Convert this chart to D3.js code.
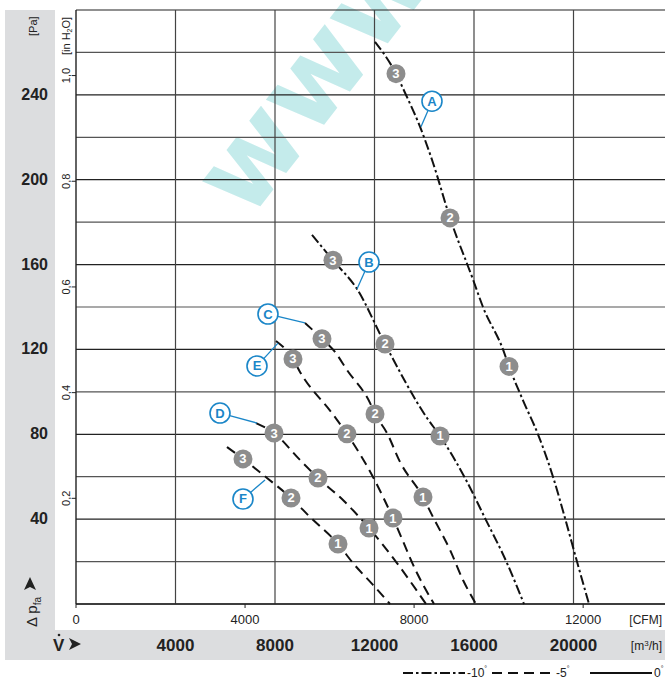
<!DOCTYPE html>
<html><head><meta charset="utf-8">
<script src="https://cdn.jsdelivr.net/npm/d3@7"></script>
<style>
body{margin:0;background:#fff;}
svg{display:block;font-family:"Liberation Sans Narrow","Arial Narrow","Liberation Sans",sans-serif;}
</style></head>
<body><svg id="c" width="665" height="679"></svg>
<script>
// ---------- data ----------
const paTicks = [40, 80, 120, 160, 200, 240];
const inH2OTicks = [0.2, 0.4, 0.6, 0.8, 1.0];
const m3hTicks = [4000, 8000, 12000, 16000, 20000];
const cfmTicks = [0, 4000, 8000, 12000];
const curveNames = ["A", "B", "C", "D", "E", "F"];
const curvePitch = ["-10", "-10", "-5", "-5", "-5", "-5"];
// [flow m3/h, pressure Pa]
const curveA = [[12020,265],[12864,250],[13226,241],[13829,225],[14351,208],[15035,182],[15959,153],[16361,140],[17165,120],[17407,112],[17969,96],[18572,80],[19175,60],[19658,40.5],[20140,20],[20623,0]];
const curveB = [[9487,174],[10331,162],[11296,148.5],[12422,122.6],[14110,87.7],[14633,79.2],[15638,59.4],[16442,40.5],[17326,19.3],[18010,0]];
const curveC = [[9206,132.5],[9889,125],[10412,118.8],[10894,110.3],[11819,94.8],[12020,89.6],[12502,80.6],[13025,67],[13949,50.4],[14351,41],[15035,25.5],[15557,11.3],[16080,0]];
const curveD = [[7236,85.3],[7960,80.6],[9005,67.9],[9728,59.4],[10733,49],[11779,35.8],[12904,19.3],[14070,0]];
const curveE = [[8040,124],[8723,115.5],[9005,109.4],[10291,90],[10894,80.2],[11939,59.9],[12743,40.5],[13708,14.6],[14392,0]];
const curveF = [[6070,74],[6713,68.4],[7678,59.4],[8643,50],[9407,41],[10532,28.3],[11135,19.3],[11939,9],[12623,0]];
const curves = [curveA, curveB, curveC, curveD, curveE, curveF];
// operating point markers 1,2,3 per curve
const markerNums = [1, 2, 3];
const markersA = [[17407,112],[15035,182],[12864,250]];
const markersB = [[14633,79.2],[12422,122.6],[10331,162]];
const markersC = [[13949,50.4],[12020,89.6],[9889,125]];
const markersD = [[11779,35.8],[9728,59.4],[7960,80.6]];
const markersE = [[12743,40.5],[10894,80.2],[8723,115.5]];
const markersF = [[10532,28.3],[8643,50],[6713,68.4]];
const markers = [markersA, markersB, markersC, markersD, markersE, markersF];
// curve label bubble and leader target
const labelAt = [[14311,237],[11779,161.2],[7718,136.7],[5789,90],[7276,112.2],[6713,49.5]];
const leaderTo = [[13869,225],[11296,148.5],[9206,132.5],[7276,85.3],[8120,123],[7598,58.5]];
const legendPitch = ["-10", "-5", "0"];

// ---------- layout ----------
const svg = d3.select("#c");
const L = 76, T = 10, B = 604;
const x = d3.scaleLinear().domain([0, 24000]).range([L, 673]);
const y = d3.scaleLinear().domain([0, 280]).range([B, T]);
const PA_PER_INH2O = 249.089;
const M3H_PER_CFM = 1.699;
const blue = "#1a86c8";
const dashOf = p => p === "-10" ? "10,3,2.5,3" : (p === "-5" ? "10,6" : null);

// gray panels
svg.append("rect").attr("x",5).attr("y",10).attr("width",50).attr("height",650).attr("fill","#dcdddf");
svg.append("rect").attr("x",5).attr("y",630).attr("width",660).attr("height",30).attr("fill","#dcdddf");

// watermark
svg.append("text").attr("transform","translate(248,222) rotate(-52)")
  .attr("font-family","DejaVu Sans").attr("font-weight","bold").attr("font-size",112)
  .attr("fill","#c4ebeb").text("www");

// grid
const g = svg.append("g");
const hLines = d3.range(0, 281, 20);
g.selectAll(".h").data(hLines).join("line")
  .attr("x1", L).attr("x2", 665).attr("y1", d => y(d)).attr("y2", d => y(d))
  .attr("stroke", (d,i) => i % 2 ? "#555" : "#222").attr("stroke-width", 1.2);
const vLines = d3.range(4000, 24001, 4000);
g.selectAll(".v").data(vLines).join("line")
  .attr("x1", d => x(d)).attr("x2", d => x(d)).attr("y1", T).attr("y2", B)
  .attr("stroke", "#444").attr("stroke-width", 1.2);
g.append("line").attr("x1", L).attr("x2", L).attr("y1", T).attr("y2", B).attr("stroke","#222").attr("stroke-width",1.4);
g.append("line").attr("x1", L).attr("x2", 665).attr("y1", B).attr("y2", B).attr("stroke","#222").attr("stroke-width",1.4);

// Pa labels
svg.selectAll(".pa").data(paTicks).join("text")
  .attr("x", 48).attr("y", d => y(d) + 5).attr("text-anchor","end")
  .attr("font-size", 16).attr("font-weight","bold").attr("fill","#222").text(d => d);
svg.append("text").attr("transform","translate(37,36) rotate(-90)")
  .attr("font-size",11).attr("fill","#222").text("[Pa]");

// inH2O axis
inH2OTicks.forEach(v => {
  const yy = y(v * PA_PER_INH2O);
  svg.append("line").attr("x1", L - 4).attr("x2", L).attr("y1", yy).attr("y2", yy).attr("stroke","#222");
  svg.append("text").attr("transform", `translate(70,${yy}) rotate(-90)`).attr("text-anchor","middle")
    .attr("font-size",11).attr("fill","#222").text(v.toFixed(1).replace(".", ","));
});
const ih = svg.append("text").attr("transform","translate(70,55) rotate(-90)").attr("font-size",11).attr("fill","#222");
ih.append("tspan").text("[in H");
ih.append("tspan").attr("font-size",7).attr("dy",2).text("2");
ih.append("tspan").attr("dy",-2).text("O]");

// CFM axis
cfmTicks.forEach(v => {
  const xx = x(v * M3H_PER_CFM);
  svg.append("line").attr("x1", xx).attr("x2", xx).attr("y1", B).attr("y2", B + 4).attr("stroke","#222");
  svg.append("text").attr("x", xx).attr("y", 624).attr("text-anchor", "middle")
    .attr("font-size",13).attr("fill","#222").text(v);
});
svg.append("text").attr("x",662).attr("y",624).attr("text-anchor","end").attr("font-size",12).attr("fill","#222").text("[CFM]");

// m3/h axis
svg.selectAll(".m3").data(m3hTicks).join("text")
  .attr("x", d => x(d)).attr("y", 651).attr("text-anchor","middle")
  .attr("font-size",17).attr("font-weight","bold").attr("fill","#222").text(d => d);
const mh = svg.append("text").attr("x",662).attr("y",650).attr("text-anchor","end").attr("font-size",12).attr("fill","#222");
mh.append("tspan").text("[m");
mh.append("tspan").attr("font-size",8).attr("dy",-4).text("3");
mh.append("tspan").attr("dy",4).text("/h]");

// V-dot label
svg.append("text").attr("x",53).attr("y",651).attr("font-size",17).attr("font-weight","bold").attr("fill","#222").text("V");
svg.append("circle").attr("cx",59).attr("cy",635).attr("r",1.3).attr("fill","#222");
svg.append("path").attr("d","M69,638 L81,644 L69,650 L72,644 Z").attr("fill","#222");

// Delta p_fa label
const dp = svg.append("text").attr("transform","translate(37,627) rotate(-90)").attr("font-size",15).attr("fill","#222");
dp.append("tspan").text("Δ p");
dp.append("tspan").attr("font-size",10).attr("dy",4).text("fa");
svg.append("path").attr("d","M24,590 L30,577 L36,590 L30,587 Z").attr("fill","#222");

// curves
const line = d3.line().x(d => x(d[0])).y(d => y(d[1])).curve(d3.curveMonotoneX);
curves.forEach((c, i) => {
  svg.append("path").attr("d", line(c)).attr("fill","none").attr("stroke","#111")
    .attr("stroke-width",2).attr("stroke-dasharray", dashOf(curvePitch[i]));
});

// markers
markers.forEach(ms => {
  ms.forEach((m, j) => {
    svg.append("circle").attr("cx", x(m[0])).attr("cy", y(m[1])).attr("r", 9.5).attr("fill","#8d8d8d");
    svg.append("text").attr("x", x(m[0])).attr("y", y(m[1]) + 4.5).attr("text-anchor","middle")
      .attr("font-family","Liberation Sans").attr("font-weight","bold").attr("font-size",13).attr("fill","#fff").text(markerNums[j]);
  });
});

// curve labels
curveNames.forEach((n, i) => {
  const lx = x(labelAt[i][0]), ly = y(labelAt[i][1]);
  const tx = x(leaderTo[i][0]), ty = y(leaderTo[i][1]);
  const ang = Math.atan2(ty - ly, tx - lx);
  svg.append("line").attr("x1", lx + 10 * Math.cos(ang)).attr("y1", ly + 10 * Math.sin(ang))
    .attr("x2", tx).attr("y2", ty).attr("stroke", blue).attr("stroke-width",1.3);
  svg.append("circle").attr("cx", lx).attr("cy", ly).attr("r", 10).attr("fill","#fff").attr("stroke", blue).attr("stroke-width",1.6);
  svg.append("text").attr("x", lx).attr("y", ly + 4.5).attr("text-anchor","middle")
    .attr("font-family","Liberation Sans").attr("font-weight","bold").attr("font-size",13).attr("fill", blue).text(n);
});

// legend
const legX = [403, 492, 590];
legendPitch.forEach((p, i) => {
  svg.append("line").attr("x1", legX[i]).attr("x2", legX[i] + 62).attr("y1", 673).attr("y2", 673)
    .attr("stroke","#111").attr("stroke-width",2).attr("stroke-dasharray", dashOf(p));
  const t = svg.append("text").attr("x", legX[i] + 64).attr("y", 677).attr("font-size",12).attr("fill","#222");
  t.append("tspan").text(p);
  t.append("tspan").attr("font-size",7).attr("dy",-6).text("°");
});
</script></body></html>
